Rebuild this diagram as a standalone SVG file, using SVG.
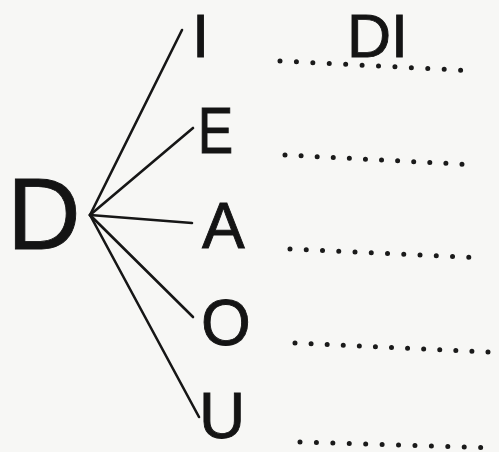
<svg xmlns="http://www.w3.org/2000/svg" width="499" height="452" viewBox="0 0 499 452">
  <style>
    .t { font-family: "Liberation Sans", Arial, sans-serif; fill: #141414; stroke: #141414; stroke-width: 0.9; }
    .v { font-size: 64px; }
    .c { stroke: #161616; stroke-width: 2.6; stroke-linecap: round; fill: none; }
    .d { stroke: #1a1a1a; stroke-width: 5; stroke-linecap: round; fill: none; }
  </style>
  <rect width="499" height="452" fill="#f7f7f5"/>
  <g id="connectors">
    <line class="c" x1="90" y1="215" x2="182" y2="30"/>
    <line class="c" x1="90" y1="215" x2="193" y2="128"/>
    <line class="c" x1="90" y1="215" x2="192" y2="223"/>
    <line class="c" x1="90" y1="215" x2="193" y2="317"/>
    <line class="c" x1="90" y1="215" x2="199" y2="417"/>
  </g>
  <g id="node-D"><text class="t" x="7" y="249" font-size="102" stroke-width="1.4">D</text></g>
  <g id="node-I"><text class="t" x="192" y="57" font-size="62">I</text></g>
  <g id="node-E"><text class="t v" x="197" y="153" transform="translate(202 0) scale(0.83 1) translate(-202 0)">E</text></g>
  <g id="node-A"><text class="t v" x="202" y="248">A</text></g>
  <g id="node-O"><text class="t v" x="201" y="345">O</text></g>
  <g id="node-U"><text class="t v" x="199" y="438">U</text></g>
  <g id="answers">
    <text class="t" x="347" y="57" font-size="61">DI</text>
    <line class="d" x1="280" y1="61" x2="477" y2="71" stroke-dasharray="0 16.44"/>
    <line class="d" x1="285" y1="155" x2="478" y2="165" stroke-dasharray="0 16.11"/>
    <line class="d" x1="290" y1="249" x2="485" y2="258" stroke-dasharray="0 16.27"/>
    <line class="d" x1="295" y1="343" x2="488" y2="352" stroke-dasharray="0 16.10"/>
    <line class="d" x1="300" y1="442" x2="497" y2="448" stroke-dasharray="0 16.43"/>
  </g>
</svg>
